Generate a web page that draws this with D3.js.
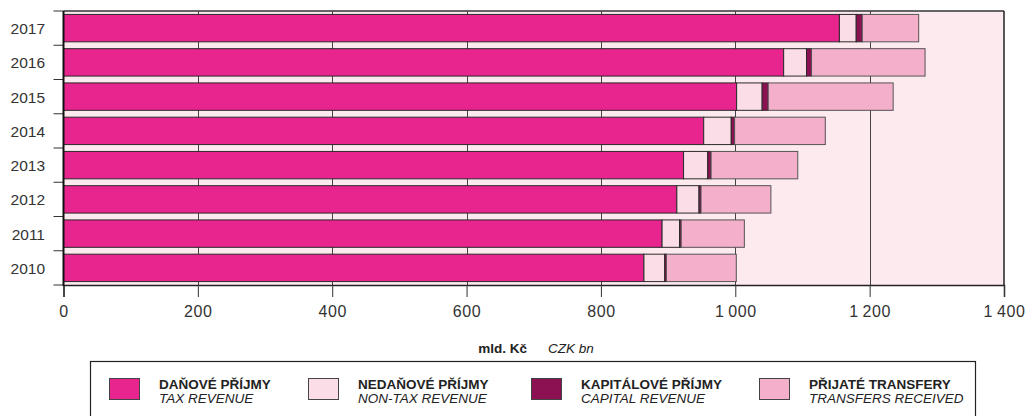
<!DOCTYPE html>
<html><head><meta charset="utf-8">
<script src="https://cdn.jsdelivr.net/npm/d3@7"></script>
<style>body{margin:0;background:#fff}svg{display:block}text{font-family:"Liberation Sans",Arial,sans-serif}</style>
</head><body>
<svg id="chart" width="1028" height="416"></svg>
<script>
const years = ["2017","2016","2015","2014","2013","2012","2011","2010"];
const taxRevenue = [1155,1072,1002,953,923,913,891,864];
const nonTaxRevenue = [25,34,38,41,36,33,26,31];
const capitalRevenue = [9,7.5,9,5,5,3,2.5,2.5];
const transfersReceived = [84,169,186,135,129,104,94,104];
const xTicks = [0,200,400,600,800,1000,1200,1400];
const seriesNamesCz = ["DAŇOVÉ PŘÍJMY","NEDAŇOVÉ PŘÍJMY","KAPITÁLOVÉ PŘÍJMY","PŘIJATÉ TRANSFERY"];
const seriesNamesEn = ["TAX REVENUE","NON-TAX REVENUE","CAPITAL REVENUE","TRANSFERS RECEIVED"];
const colors = ["#e8248e","#fbdde7","#8b1152","#f4afcb"];

const svg = d3.select("#chart");
const L = 63.5, R = 1004, T = 11, B = 285;
const x = d3.scaleLinear().domain([0,1400]).range([L,R]);
const y = d3.scaleBand().domain(years).range([T,B]).paddingInner(0.2).paddingOuter(0.1);

const table = years.map((yr,i)=>({year:yr, tax:taxRevenue[i], nontax:nonTaxRevenue[i], capital:capitalRevenue[i], transfers:transfersReceived[i]}));
const keys = ["tax","nontax","capital","transfers"];
const stacked = d3.stack().keys(keys)(table);

// plot background
svg.append("rect").attr("x",L).attr("y",T).attr("width",R-L).attr("height",B-T).attr("fill","#fdeaef");

// gridlines
svg.append("g").selectAll("line").data(xTicks.slice(1,-1)).join("line")
  .attr("x1",d=>Math.round(x(d))+0.5).attr("x2",d=>Math.round(x(d))+0.5)
  .attr("y1",T).attr("y2",B).attr("stroke","#444").attr("stroke-width",1);

// bars
stacked.forEach((s,k)=>{
  svg.append("g").selectAll("rect").data(s).join("rect")
    .attr("x",d=>x(d[0])).attr("width",d=>x(d[1])-x(d[0]))
    .attr("y",d=>y(d.data.year)).attr("height",y.bandwidth())
    .attr("fill",colors[k]).attr("stroke", k===3 ? "#555" : "#2a2a2a").attr("stroke-width",1);
});

// frame lines
svg.append("line").attr("x1",L).attr("x2",R).attr("y1",T).attr("y2",T).attr("stroke","#333").attr("stroke-width",1.5);
svg.append("line").attr("x1",R).attr("x2",R).attr("y1",T).attr("y2",B).attr("stroke","#222").attr("stroke-width",1.5);

// x axis
const xAxis = svg.append("g").attr("transform",`translate(0,${B})`)
  .call(d3.axisBottom(x).tickValues(xTicks).tickSize(12).tickPadding(8)
    .tickFormat(d=>d3.format(",")(d).replace(/,/g,"\u2009")));
xAxis.select(".domain").attr("stroke","#222").attr("stroke-width",1.5);
xAxis.selectAll(".tick line").attr("stroke","#333");
xAxis.selectAll(".tick text").attr("font-size",16).attr("letter-spacing","0.6px").attr("fill","#333")
  .attr("font-family","Liberation Sans, Arial, sans-serif").attr("dy","0.72em");

// y axis
const bandEdges = years.map(yr=>y(yr)-y.step()*y.paddingInner()/2).concat([B]);
svg.append("g").selectAll("line").data(bandEdges).join("line")
  .attr("x1",L-10).attr("x2",L).attr("y1",d=>d).attr("y2",d=>d).attr("stroke","#333");
svg.append("line").attr("x1",L).attr("x2",L).attr("y1",T).attr("y2",B+1).attr("stroke","#111").attr("stroke-width",2);
svg.append("g").selectAll("text").data(years).join("text")
  .attr("x",45).attr("y",d=>y(d)+y.bandwidth()/2+6).attr("text-anchor","end")
  .attr("font-size",15.5).attr("fill","#333").text(d=>d);

// axis title
svg.append("text").attr("x",527).attr("y",352.5).attr("text-anchor","end").attr("font-size",13.5).attr("font-weight","bold").attr("fill","#222").text("mld. Kč");
svg.append("text").attr("x",548).attr("y",352.5).attr("font-size",13.5).attr("font-style","italic").attr("fill","#222").text("CZK bn");

// legend
svg.append("rect").attr("x",90.5).attr("y",361.5).attr("width",885).attr("height",80).attr("fill","none").attr("stroke","#222").attr("stroke-width",1.2);
const legX = [109,308,531,759];
const lg = svg.append("g").selectAll("g").data(seriesNamesCz).join("g");
lg.append("rect").attr("x",(d,i)=>legX[i]+0.5).attr("y",378.5).attr("width",30).attr("height",21)
  .attr("fill",(d,i)=>colors[i]).attr("stroke","#444").attr("stroke-width",1);
lg.append("text").attr("x",(d,i)=>legX[i]+50).attr("y",388.5).attr("font-size",13.5).attr("font-weight","bold").attr("fill","#222").text(d=>d);
lg.append("text").attr("x",(d,i)=>legX[i]+50).attr("y",402.5).attr("font-size",13.5).attr("font-style","italic").attr("fill","#222").text((d,i)=>seriesNamesEn[i]);
</script>
</body></html>
